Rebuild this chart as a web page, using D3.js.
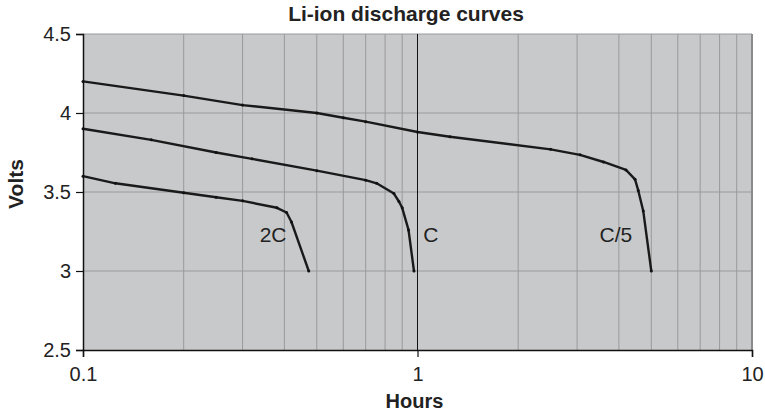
<!DOCTYPE html>
<html><head><meta charset="utf-8">
<script src="https://cdn.jsdelivr.net/npm/d3@7"></script>
<style>
body{margin:0;background:#fff;}
text{font-family:"Liberation Sans",Arial,Helvetica,sans-serif;fill:#222;}
</style></head>
<body><svg id="c" width="765" height="414"></svg>
<script>
const title = "Li-ion discharge curves";
const xLabel = "Hours";
const yLabel = "Volts";
const xTicks = [0.1, 1, 10];
const xTickLabels = ["0.1", "1", "10"];
const yTicks = [2.5, 3, 3.5, 4, 4.5];
const yTickLabels = ["2.5", "3", "3.5", "4", "4.5"];
const seriesNames = ["C/5", "C", "2C"];
const hoursC5 = [0.1, 0.2, 0.3, 0.5, 0.6, 0.7, 1.0, 1.25, 2.5, 3.06, 3.6, 4.2, 4.47, 4.57, 4.73, 5.0];
const voltsC5 = [4.2, 4.11, 4.05, 4.0, 3.97, 3.945, 3.88, 3.85, 3.77, 3.735, 3.69, 3.64, 3.58, 3.51, 3.38, 3.0];
const hoursC = [0.1, 0.16, 0.25, 0.32, 0.5, 0.7, 0.755, 0.85, 0.88, 0.9, 0.94, 0.976];
const voltsC = [3.9, 3.83, 3.75, 3.71, 3.635, 3.575, 3.555, 3.49, 3.44, 3.40, 3.26, 3.0];
const hours2C = [0.1, 0.125, 0.2, 0.25, 0.3, 0.38, 0.406, 0.42, 0.473];
const volts2C = [3.6, 3.555, 3.495, 3.467, 3.444, 3.40, 3.37, 3.31, 3.0];
const labelHours = [3.92, 1.097, 0.37];
const labelVolts = [3.186, 3.186, 3.186];

const svg = d3.select("#c");
const L = 83, R = 752, T = 34, B = 350;
const x = d3.scaleLog().domain([0.1, 10]).range([L, R]);
const y = d3.scaleLinear().domain([2.5, 4.5]).range([B, T]);

svg.append("rect").attr("x", L).attr("y", T).attr("width", R - L).attr("height", B - T).attr("fill", "#c8c9cb");

// grid
const minorX = [];
for (let d = 0.1; d < 10; d *= 10) for (let k = 2; k <= 9; k++) minorX.push(+(d * k).toFixed(3));
svg.append("g").selectAll("line").data(minorX).join("line")
  .attr("x1", d => x(d)).attr("x2", d => x(d)).attr("y1", T).attr("y2", B)
  .attr("stroke", "#999a9c").attr("stroke-width", 1);
svg.append("g").selectAll("line").data([3, 3.5, 4, 4.5]).join("line")
  .attr("x1", L).attr("x2", R).attr("y1", d => y(d)).attr("y2", d => y(d))
  .attr("stroke", "#999a9c").attr("stroke-width", 1);
svg.append("line").attr("x1", x(1)).attr("x2", x(1)).attr("y1", T).attr("y2", B).attr("stroke", "#111").attr("stroke-width", 1);
svg.append("line").attr("x1", R).attr("x2", R).attr("y1", T).attr("y2", B).attr("stroke", "#8a8b8d").attr("stroke-width", 2);

// axes
const yAxis = d3.axisLeft(y).tickValues(yTicks).tickFormat((d, i) => yTickLabels[i]).tickSize(7).tickPadding(5);
const gy = svg.append("g").attr("transform", `translate(${L},0)`).call(yAxis);
const xAxis = d3.axisBottom(x).tickValues(xTicks).tickFormat((d, i) => xTickLabels[i]).tickSize(7).tickPadding(10);
const gx = svg.append("g").attr("transform", `translate(0,${B})`).call(xAxis);
[gx, gy].forEach(g => {
  g.select(".domain").attr("stroke", "#111").attr("stroke-width", 1.5);
  g.selectAll(".tick line").attr("stroke", "#111").attr("stroke-width", 1.2);
  g.selectAll("text").style("font-size", "20px").style("fill", "#222").style("font-family", "Liberation Sans, Arial, sans-serif");
});

// curves
const series = [
  {h: hoursC5, v: voltsC5},
  {h: hoursC, v: voltsC},
  {h: hours2C, v: volts2C}
];
const line = d3.line().x(d => x(d[0])).y(d => y(d[1]));
series.forEach((s, i) => {
  const pts = s.h.map((h, j) => [h, s.v[j]]);
  svg.append("path").datum(pts).attr("d", line).attr("fill", "none")
    .attr("stroke", "#1a1a1a").attr("stroke-width", 2.4).attr("stroke-linejoin", "round");
  svg.append("g").selectAll("circle").data(pts).join("circle")
    .attr("cx", d => x(d[0])).attr("cy", d => y(d[1])).attr("r", 1.5).attr("fill", "#111");
  svg.append("text").attr("x", x(labelHours[i])).attr("y", y(labelVolts[i]))
    .attr("text-anchor", "middle").style("font-size", "21px").text(seriesNames[i]);
});

svg.append("text").attr("x", 406).attr("y", 21).attr("text-anchor", "middle")
  .style("font-size", "21px").style("font-weight", "bold").text(title);
svg.append("text").attr("x", 414.5).attr("y", 408).attr("text-anchor", "middle")
  .style("font-size", "20px").style("font-weight", "bold").text(xLabel);
svg.append("text").attr("transform", `translate(23,184) rotate(-90)`).attr("text-anchor", "middle")
  .style("font-size", "21px").style("font-weight", "bold").text(yLabel);
</script></body></html>
